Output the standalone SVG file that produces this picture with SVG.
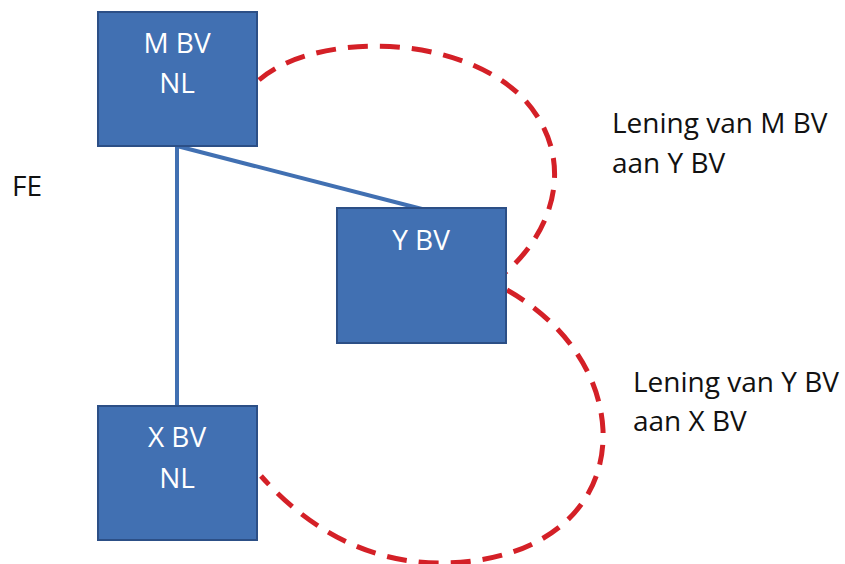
<svg xmlns="http://www.w3.org/2000/svg" width="845" height="564" viewBox="0 0 845 564">
  <style>
    .box { fill: #4170b2; stroke: #2c4f86; stroke-width: 2; }
    .boxtext { font-family: "Open Sans", "Liberation Sans", sans-serif; font-size: 28px; fill: #ffffff; text-anchor: middle; }
    .label { font-family: "Open Sans", "Liberation Sans", sans-serif; font-size: 28px; fill: #111111; }
    .link { stroke: #4170b2; stroke-width: 4; fill: none; }
    .loan { stroke: #d42027; stroke-width: 5; fill: none; stroke-dasharray: 20 12; }
  </style>
  <rect width="845" height="564" fill="#ffffff"/>

  <!-- ownership links -->
  <g id="connectors">
    <line class="link" x1="177" y1="146" x2="177" y2="406"/>
    <line class="link" x1="177" y1="146" x2="422" y2="209"/>
    <path class="loan" d="M259,80 C310,35 450,30 520,95 C575,150 560,225 506,272"/>
    <path class="loan" d="M507,290 C560,320 600,370 603,430 C606,510 540,563 440,563 C360,563 300,520 261,476"/>
  </g>

  <g id="node-m">
    <rect class="box" x="98" y="12" width="159" height="134"/>
    <text class="boxtext" x="177" y="53">M BV</text>
    <text class="boxtext" x="177" y="93">NL</text>
  </g>

  <g id="node-y">
    <rect class="box" x="337" y="208" width="169" height="135"/>
    <text class="boxtext" x="421" y="250">Y BV</text>
  </g>

  <g id="node-x">
    <rect class="box" x="98" y="406" width="159" height="134"/>
    <text class="boxtext" x="177" y="447">X BV</text>
    <text class="boxtext" x="177" y="488">NL</text>
  </g>

  <g id="label-fe">
    <text class="label" x="12" y="196">FE</text>
  </g>

  <g id="label-loan-m-y">
    <text class="label" x="612" y="133">Lening van M BV</text>
    <text class="label" x="612" y="173">aan Y BV</text>
  </g>

  <g id="label-loan-y-x">
    <text class="label" x="633" y="392">Lening van Y BV</text>
    <text class="label" x="633" y="431">aan X BV</text>
  </g>
</svg>
